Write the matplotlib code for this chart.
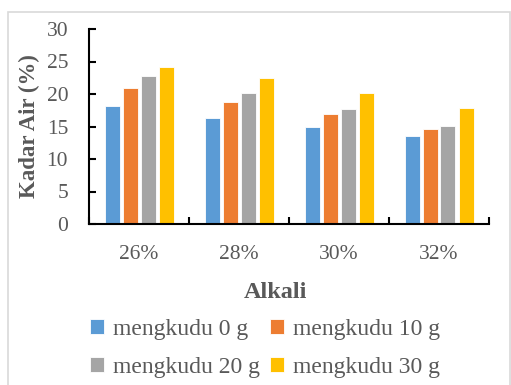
import matplotlib.pyplot as plt
import numpy as np

# data
alkali = ['26%', '28%', '30%', '32%']
series_names = ['mengkudu 0 g', 'mengkudu 10 g', 'mengkudu 20 g', 'mengkudu 30 g']
mengkudu_0 = [18.1, 16.3, 14.95, 13.55]
mengkudu_10 = [20.85, 18.8, 16.95, 14.6]
mengkudu_20 = [22.8, 20.1, 17.7, 15.05]
mengkudu_30 = [24.1, 22.5, 20.2, 17.9]
colors = ['#5b9bd5', '#ed7d31', '#a5a5a5', '#ffc000']

plt.rcParams['font.family'] = ['Liberation Serif', 'DejaVu Serif']
text_col = '#595959'

fig = plt.figure(figsize=(5.11, 3.85), dpi=100)
ax = fig.add_axes([89 / 511, 1 - 224 / 385, 400 / 511, 195 / 385])

# light chart border
fig.patches.append(plt.Rectangle((8 / 511, -0.1), (510 - 8) / 511, 1.1 - 12 / 385,
                                 transform=fig.transFigure, fill=False,
                                 edgecolor='#d9d9d9', linewidth=1.2))

x = np.arange(len(alkali))
pitch = 0.18
width = 0.15
all_vals = [mengkudu_0, mengkudu_10, mengkudu_20, mengkudu_30]
bars = []
for i, vals in enumerate(all_vals):
    b = ax.bar(x + (i - 1.5) * pitch, vals, width, color=colors[i],
               edgecolor='white', linewidth=0.6, label=series_names[i])
    bars.append(b)

ax.set_xlim(-0.5, 3.5)
ax.set_ylim(0, 30)
ax.set_yticks(np.arange(0, 31, 5))
ax.set_xticks(x)
ax.set_xticklabels(alkali)
ax.set_xticks(np.arange(-0.5, 3.6, 1), minor=True)

ax.tick_params(axis='x', which='major', length=0, pad=15, labelsize=15.5, labelcolor=text_col)
ax.tick_params(axis='x', which='minor', direction='in', length=5, width=1.5, color='black')
ax.tick_params(axis='y', direction='in', length=5, width=1.5, color='black',
               pad=15, labelsize=15.5, labelcolor=text_col)

for s in ['top', 'right']:
    ax.spines[s].set_visible(False)
for s in ['left', 'bottom']:
    ax.spines[s].set_linewidth(1.5)
    ax.spines[s].set_color('black')

ax.set_ylabel('Kadar Air (%)', fontsize=16.5, fontweight='bold', color=text_col, labelpad=5)
fig.text(275 / 511, 1 - 292 / 385, 'Alkali', ha='center', va='center',
         fontsize=17.5, fontweight='bold', color=text_col)

# legend filled row by row like the original
order = [0, 2, 1, 3]
fig.legend([bars[i] for i in order], [series_names[i] for i in order],
           loc='center', bbox_to_anchor=(265 / 511, 1 - 348 / 385), ncol=2,
           frameon=False, fontsize=17, labelcolor=text_col,
           handlelength=0.6, handleheight=0.6, handletextpad=0.35,
           columnspacing=0.45, labelspacing=0.72)

fig.savefig('out.png', dpi=100)
